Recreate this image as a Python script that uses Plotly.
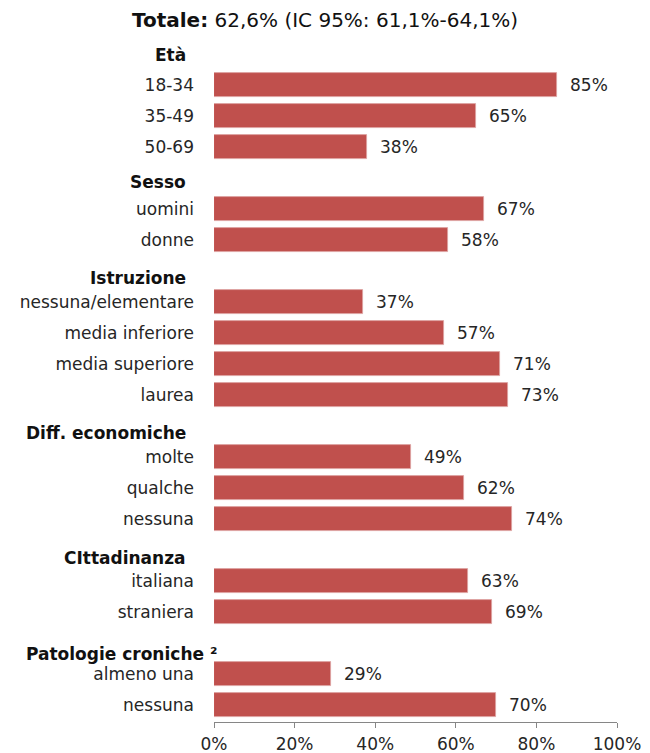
import plotly.graph_objects as go

# Gruppi, categorie e percentuali
groups = ["Età", "Sesso", "Istruzione", "Diff. economiche", "CIttadinanza", "Patologie croniche ²"]
categories = [
    ["18-34", "35-49", "50-69"],
    ["uomini", "donne"],
    ["nessuna/elementare", "media inferiore", "media superiore", "laurea"],
    ["molte", "qualche", "nessuna"],
    ["italiana", "straniera"],
    ["almeno una", "nessuna"],
]
values = [
    [85, 65, 38],
    [67, 58],
    [37, 57, 71, 73],
    [49, 62, 74],
    [63, 69],
    [29, 70],
]
title_text = "<b>Totale:</b> 62,6% (IC 95%: 61,1%-64,1%)"
x_ticks = [0, 20, 40, 60, 80, 100]

# Layout / style settings
FONT = "DejaVu Sans"
BAR_COLOR = "#C0504D"
TEXT_COLOR = "#262626"
AXIS_COLOR = "#868686"
header_dy = [1, 4, 7, 7, 8, 11]      # pixel nudge of each group heading
header_dx = [0, 0, 0, 0, 0, 31]      # pixel nudge of the right edge of each heading

# Each group takes one slot for its heading, then one slot per category
bar_y, bar_x, tick_text, header_slots = [], [], [], []
slot = 0
for cats, vals in zip(categories, values):
    header_slots.append(slot)
    slot += 1
    for c, v in zip(cats, vals):
        bar_y.append(slot)
        bar_x.append(v)
        tick_text.append(c)
        slot += 1
n_slots = slot

fig = go.Figure(go.Bar(
    x=bar_x, y=bar_y, orientation="h", width=0.75,
    marker=dict(color=BAR_COLOR, line=dict(color="#DDA3A1", width=0.8)),
    hoverinfo="x+y",
))

annotations = []
for y, v in zip(bar_y, bar_x):
    annotations.append(dict(
        x=v, y=y, xref="x", yref="y", text=f"{v}%", showarrow=False,
        xanchor="left", yanchor="middle", xshift=11,
        font=dict(family=FONT, size=17, color=TEXT_COLOR),
    ))
for g, s in enumerate(header_slots):
    annotations.append(dict(
        x=0, y=s, xref="paper", yref="y", text=f"<b>{groups[g]}</b>",
        showarrow=False, xanchor="right", yanchor="middle",
        xshift=-26 + header_dx[g], yshift=-header_dy[g],
        font=dict(family=FONT, size=17, color="#111111"),
    ))

fig.update_layout(
    width=650, height=753,
    margin=dict(l=214, r=33, t=37, b=31),
    paper_bgcolor="white", plot_bgcolor="white",
    showlegend=False, bargap=0,
    title=dict(text=title_text, x=0.5, xref="container", xanchor="center",
               y=1 - 20 / 753, yref="container", yanchor="middle",
               font=dict(family=FONT, size=20, color="#111111")),
    annotations=annotations,
)
fig.update_xaxes(
    range=[0, 100], tickvals=x_ticks, ticktext=[f"{t}%" for t in x_ticks],
    showgrid=False, zeroline=False, showline=True, linecolor=AXIS_COLOR, linewidth=1,
    ticks="outside", ticklen=5, tickcolor=AXIS_COLOR, ticklabelstandoff=2,
    tickfont=dict(family=FONT, size=17, color=TEXT_COLOR), automargin=False,
)
fig.update_yaxes(
    range=[n_slots - 0.45, -0.55], tickvals=bar_y, ticktext=tick_text,
    showgrid=False, zeroline=False, showline=False, ticks="",
    ticklabelstandoff=19, automargin=False,
    tickfont=dict(family=FONT, size=17, color=TEXT_COLOR),
)

fig.write_html("out.html")
